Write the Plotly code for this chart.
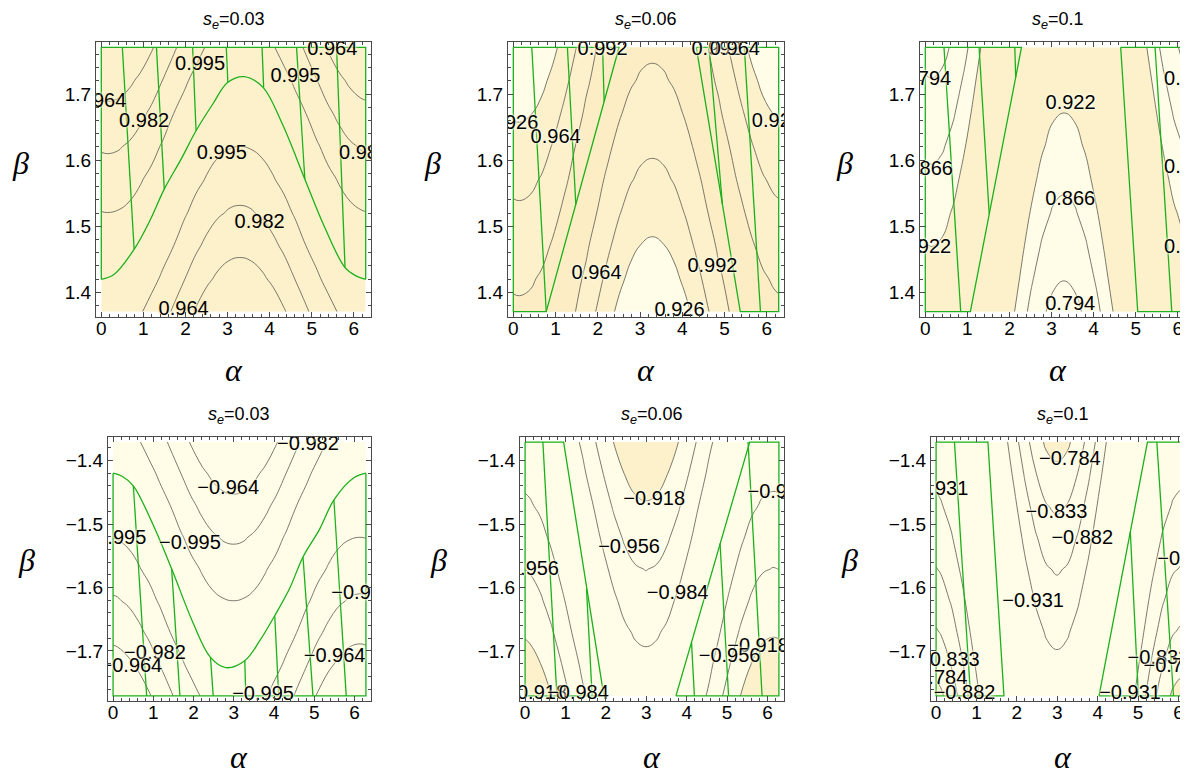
import plotly.graph_objects as go

W, H = 1188, 770

# ---------------- data ----------------
alpha_up = [0.0, 0.150, 0.412, 0.674, 0.935, 1.197, 1.459, 1.721, 1.983, 2.244, 2.506, 2.768, 3.030,
            3.292, 3.553, 3.815, 4.077, 4.339, 4.601, 4.862, 5.124, 5.386, 5.648, 5.909, 6.171, 6.283]
beta_up = [1.3708, 1.4208, 1.4708, 1.5208, 1.5708, 1.6208, 1.6708, 1.7208, 1.7708]
alpha_dn = [0.0, 0.112, 0.374, 0.635, 0.897, 1.159, 1.421, 1.683, 1.944, 2.206, 2.468, 2.730, 2.991,
            3.253, 3.515, 3.777, 4.039, 4.301, 4.562, 4.824, 5.086, 5.348, 5.609, 5.871, 6.133, 6.283]
beta_dn = [-1.7708, -1.7208, -1.6708, -1.6208, -1.5708, -1.5208, -1.4708, -1.4208, -1.3708]

# z values, one list per alpha column (bottom to top in beta)
zc_up_003 = [
    [0.9986, 1.0000, 0.9988, 0.9952, 0.9891, 0.9805, 0.9694, 0.9559, 0.9401],
    [0.9988, 1.0000, 0.9988, 0.9950, 0.9888, 0.9801, 0.9689, 0.9553, 0.9394],
    [0.9985, 1.0000, 0.9990, 0.9955, 0.9895, 0.9810, 0.9701, 0.9568, 0.9411],
    [0.9976, 0.9998, 0.9996, 0.9968, 0.9916, 0.9838, 0.9737, 0.9611, 0.9460],
    [0.9956, 0.9990, 1.0000, 0.9984, 0.9944, 0.9879, 0.9789, 0.9674, 0.9535],
    [0.9922, 0.9972, 0.9997, 0.9997, 0.9972, 0.9922, 0.9847, 0.9748, 0.9624],
    [0.9871, 0.9938, 0.9981, 0.9999, 0.9992, 0.9960, 0.9904, 0.9822, 0.9716],
    [0.9801, 0.9888, 0.9950, 0.9988, 1.0000, 0.9988, 0.9950, 0.9888, 0.9801],
    [0.9716, 0.9822, 0.9904, 0.9960, 0.9992, 0.9999, 0.9981, 0.9938, 0.9871],
    [0.9624, 0.9748, 0.9847, 0.9922, 0.9972, 0.9997, 0.9997, 0.9972, 0.9922],
    [0.9535, 0.9674, 0.9789, 0.9879, 0.9944, 0.9984, 1.0000, 0.9990, 0.9956],
    [0.9460, 0.9611, 0.9737, 0.9838, 0.9916, 0.9968, 0.9996, 0.9998, 0.9976],
    [0.9411, 0.9568, 0.9701, 0.9810, 0.9895, 0.9955, 0.9990, 1.0000, 0.9985],
    [0.9394, 0.9553, 0.9689, 0.9801, 0.9888, 0.9950, 0.9988, 1.0000, 0.9988],
    [0.9411, 0.9568, 0.9701, 0.9810, 0.9895, 0.9955, 0.9990, 1.0000, 0.9985],
    [0.9460, 0.9611, 0.9737, 0.9838, 0.9916, 0.9968, 0.9996, 0.9998, 0.9976],
    [0.9535, 0.9674, 0.9789, 0.9879, 0.9944, 0.9984, 1.0000, 0.9990, 0.9956],
    [0.9624, 0.9748, 0.9847, 0.9922, 0.9972, 0.9997, 0.9997, 0.9972, 0.9922],
    [0.9716, 0.9822, 0.9904, 0.9960, 0.9992, 0.9999, 0.9981, 0.9938, 0.9871],
    [0.9801, 0.9888, 0.9950, 0.9988, 1.0000, 0.9988, 0.9950, 0.9888, 0.9801],
    [0.9871, 0.9938, 0.9981, 0.9999, 0.9992, 0.9960, 0.9904, 0.9822, 0.9716],
    [0.9922, 0.9972, 0.9997, 0.9997, 0.9972, 0.9922, 0.9847, 0.9748, 0.9624],
    [0.9956, 0.9990, 1.0000, 0.9984, 0.9944, 0.9879, 0.9789, 0.9674, 0.9535],
    [0.9976, 0.9998, 0.9996, 0.9968, 0.9916, 0.9838, 0.9737, 0.9611, 0.9460],
    [0.9985, 1.0000, 0.9990, 0.9955, 0.9895, 0.9810, 0.9701, 0.9568, 0.9411],
    [0.9986, 1.0000, 0.9988, 0.9952, 0.9891, 0.9805, 0.9694, 0.9559, 0.9401],
]
zc_up_006 = [
    [0.9953, 0.9892, 0.9807, 0.9697, 0.9562, 0.9404, 0.9222, 0.9017, 0.8790],
    [0.9950, 0.9888, 0.9801, 0.9689, 0.9553, 0.9394, 0.9211, 0.9004, 0.8776],
    [0.9960, 0.9902, 0.9820, 0.9713, 0.9582, 0.9428, 0.9249, 0.9048, 0.8823],
    [0.9982, 0.9940, 0.9872, 0.9780, 0.9664, 0.9523, 0.9359, 0.9171, 0.8961],
    [0.9999, 0.9981, 0.9937, 0.9869, 0.9776, 0.9659, 0.9517, 0.9352, 0.9163],
    [0.9988, 1.0000, 0.9988, 0.9950, 0.9888, 0.9801, 0.9689, 0.9553, 0.9394],
    [0.9926, 0.9974, 0.9998, 0.9996, 0.9970, 0.9918, 0.9842, 0.9741, 0.9616],
    [0.9801, 0.9888, 0.9950, 0.9988, 1.0000, 0.9988, 0.9950, 0.9888, 0.9801],
    [0.9616, 0.9741, 0.9842, 0.9918, 0.9970, 0.9996, 0.9998, 0.9974, 0.9926],
    [0.9394, 0.9553, 0.9689, 0.9801, 0.9888, 0.9950, 0.9988, 1.0000, 0.9988],
    [0.9163, 0.9352, 0.9517, 0.9659, 0.9776, 0.9869, 0.9937, 0.9981, 0.9999],
    [0.8961, 0.9171, 0.9359, 0.9523, 0.9664, 0.9780, 0.9872, 0.9940, 0.9982],
    [0.8823, 0.9048, 0.9249, 0.9428, 0.9582, 0.9713, 0.9820, 0.9902, 0.9960],
    [0.8776, 0.9004, 0.9211, 0.9394, 0.9553, 0.9689, 0.9801, 0.9888, 0.9950],
    [0.8823, 0.9048, 0.9249, 0.9428, 0.9582, 0.9713, 0.9820, 0.9902, 0.9960],
    [0.8961, 0.9171, 0.9359, 0.9523, 0.9664, 0.9780, 0.9872, 0.9940, 0.9982],
    [0.9163, 0.9352, 0.9517, 0.9659, 0.9776, 0.9869, 0.9937, 0.9981, 0.9999],
    [0.9394, 0.9553, 0.9689, 0.9801, 0.9888, 0.9950, 0.9988, 1.0000, 0.9988],
    [0.9616, 0.9741, 0.9842, 0.9918, 0.9970, 0.9996, 0.9998, 0.9974, 0.9926],
    [0.9801, 0.9888, 0.9950, 0.9988, 1.0000, 0.9988, 0.9950, 0.9888, 0.9801],
    [0.9926, 0.9974, 0.9998, 0.9996, 0.9970, 0.9918, 0.9842, 0.9741, 0.9616],
    [0.9988, 1.0000, 0.9988, 0.9950, 0.9888, 0.9801, 0.9689, 0.9553, 0.9394],
    [0.9999, 0.9981, 0.9937, 0.9869, 0.9776, 0.9659, 0.9517, 0.9352, 0.9163],
    [0.9982, 0.9940, 0.9872, 0.9780, 0.9664, 0.9523, 0.9359, 0.9171, 0.8961],
    [0.9960, 0.9902, 0.9820, 0.9713, 0.9582, 0.9428, 0.9249, 0.9048, 0.8823],
    [0.9953, 0.9892, 0.9807, 0.9697, 0.9562, 0.9404, 0.9222, 0.9017, 0.8790],
]
zc_up_010 = [
    [0.9571, 0.9414, 0.9234, 0.9030, 0.8804, 0.8556, 0.8287, 0.7997, 0.7687],
    [0.9553, 0.9394, 0.9211, 0.9004, 0.8776, 0.8525, 0.8253, 0.7961, 0.7648],
    [0.9602, 0.9451, 0.9275, 0.9077, 0.8856, 0.8613, 0.8348, 0.8063, 0.7757],
    [0.9730, 0.9602, 0.9451, 0.9275, 0.9077, 0.8856, 0.8613, 0.8348, 0.8063],
    [0.9882, 0.9793, 0.9679, 0.9541, 0.9380, 0.9195, 0.8987, 0.8757, 0.8504],
    [0.9988, 0.9950, 0.9888, 0.9801, 0.9689, 0.9553, 0.9394, 0.9211, 0.9004],
    [0.9975, 0.9998, 0.9996, 0.9969, 0.9917, 0.9840, 0.9739, 0.9613, 0.9464],
    [0.9801, 0.9888, 0.9950, 0.9988, 1.0000, 0.9988, 0.9950, 0.9888, 0.9801],
    [0.9464, 0.9613, 0.9739, 0.9840, 0.9917, 0.9969, 0.9996, 0.9998, 0.9975],
    [0.9004, 0.9211, 0.9394, 0.9553, 0.9689, 0.9801, 0.9888, 0.9950, 0.9988],
    [0.8504, 0.8757, 0.8987, 0.9195, 0.9380, 0.9541, 0.9679, 0.9793, 0.9882],
    [0.8063, 0.8348, 0.8613, 0.8856, 0.9077, 0.9275, 0.9451, 0.9602, 0.9730],
    [0.7757, 0.8063, 0.8348, 0.8613, 0.8856, 0.9077, 0.9275, 0.9451, 0.9602],
    [0.7648, 0.7961, 0.8253, 0.8525, 0.8776, 0.9004, 0.9211, 0.9394, 0.9553],
    [0.7757, 0.8063, 0.8348, 0.8613, 0.8856, 0.9077, 0.9275, 0.9451, 0.9602],
    [0.8063, 0.8348, 0.8613, 0.8856, 0.9077, 0.9275, 0.9451, 0.9602, 0.9730],
    [0.8504, 0.8757, 0.8987, 0.9195, 0.9380, 0.9541, 0.9679, 0.9793, 0.9882],
    [0.9004, 0.9211, 0.9394, 0.9553, 0.9689, 0.9801, 0.9888, 0.9950, 0.9988],
    [0.9464, 0.9613, 0.9739, 0.9840, 0.9917, 0.9969, 0.9996, 0.9998, 0.9975],
    [0.9801, 0.9888, 0.9950, 0.9988, 1.0000, 0.9988, 0.9950, 0.9888, 0.9801],
    [0.9975, 0.9998, 0.9996, 0.9969, 0.9917, 0.9840, 0.9739, 0.9613, 0.9464],
    [0.9988, 0.9950, 0.9888, 0.9801, 0.9689, 0.9553, 0.9394, 0.9211, 0.9004],
    [0.9882, 0.9793, 0.9679, 0.9541, 0.9380, 0.9195, 0.8987, 0.8757, 0.8504],
    [0.9730, 0.9602, 0.9451, 0.9275, 0.9077, 0.8856, 0.8613, 0.8348, 0.8063],
    [0.9602, 0.9451, 0.9275, 0.9077, 0.8856, 0.8613, 0.8348, 0.8063, 0.7757],
    [0.9571, 0.9414, 0.9234, 0.9030, 0.8804, 0.8556, 0.8287, 0.7997, 0.7687],
]
zc_dn_003 = [
    [-0.9401, -0.9559, -0.9694, -0.9805, -0.9891, -0.9952, -0.9988, -1.0000, -0.9986],
    [-0.9411, -0.9568, -0.9701, -0.9810, -0.9895, -0.9955, -0.9990, -1.0000, -0.9985],
    [-0.9460, -0.9611, -0.9737, -0.9838, -0.9916, -0.9968, -0.9996, -0.9998, -0.9976],
    [-0.9535, -0.9674, -0.9789, -0.9879, -0.9944, -0.9984, -1.0000, -0.9990, -0.9956],
    [-0.9624, -0.9748, -0.9847, -0.9922, -0.9972, -0.9997, -0.9997, -0.9972, -0.9922],
    [-0.9716, -0.9822, -0.9904, -0.9960, -0.9992, -0.9999, -0.9981, -0.9938, -0.9871],
    [-0.9801, -0.9888, -0.9950, -0.9988, -1.0000, -0.9988, -0.9950, -0.9888, -0.9801],
    [-0.9871, -0.9938, -0.9981, -0.9999, -0.9992, -0.9960, -0.9904, -0.9822, -0.9716],
    [-0.9922, -0.9972, -0.9997, -0.9997, -0.9972, -0.9922, -0.9847, -0.9748, -0.9624],
    [-0.9956, -0.9990, -1.0000, -0.9984, -0.9944, -0.9879, -0.9789, -0.9674, -0.9535],
    [-0.9976, -0.9998, -0.9996, -0.9968, -0.9916, -0.9838, -0.9737, -0.9611, -0.9460],
    [-0.9985, -1.0000, -0.9990, -0.9955, -0.9895, -0.9810, -0.9701, -0.9568, -0.9411],
    [-0.9988, -1.0000, -0.9988, -0.9950, -0.9888, -0.9801, -0.9689, -0.9553, -0.9394],
    [-0.9985, -1.0000, -0.9990, -0.9955, -0.9895, -0.9810, -0.9701, -0.9568, -0.9411],
    [-0.9976, -0.9998, -0.9996, -0.9968, -0.9916, -0.9838, -0.9737, -0.9611, -0.9460],
    [-0.9956, -0.9990, -1.0000, -0.9984, -0.9944, -0.9879, -0.9789, -0.9674, -0.9535],
    [-0.9922, -0.9972, -0.9997, -0.9997, -0.9972, -0.9922, -0.9847, -0.9748, -0.9624],
    [-0.9871, -0.9938, -0.9981, -0.9999, -0.9992, -0.9960, -0.9904, -0.9822, -0.9716],
    [-0.9801, -0.9888, -0.9950, -0.9988, -1.0000, -0.9988, -0.9950, -0.9888, -0.9801],
    [-0.9716, -0.9822, -0.9904, -0.9960, -0.9992, -0.9999, -0.9981, -0.9938, -0.9871],
    [-0.9624, -0.9748, -0.9847, -0.9922, -0.9972, -0.9997, -0.9997, -0.9972, -0.9922],
    [-0.9535, -0.9674, -0.9789, -0.9879, -0.9944, -0.9984, -1.0000, -0.9990, -0.9956],
    [-0.9460, -0.9611, -0.9737, -0.9838, -0.9916, -0.9968, -0.9996, -0.9998, -0.9976],
    [-0.9411, -0.9568, -0.9701, -0.9810, -0.9895, -0.9955, -0.9990, -1.0000, -0.9985],
    [-0.9394, -0.9553, -0.9689, -0.9801, -0.9888, -0.9950, -0.9988, -1.0000, -0.9988],
    [-0.9401, -0.9559, -0.9694, -0.9805, -0.9891, -0.9952, -0.9988, -1.0000, -0.9986],
]
zc_dn_006 = [
    [-0.8790, -0.9017, -0.9222, -0.9404, -0.9562, -0.9697, -0.9807, -0.9892, -0.9953],
    [-0.8823, -0.9048, -0.9249, -0.9428, -0.9582, -0.9713, -0.9820, -0.9902, -0.9960],
    [-0.8961, -0.9171, -0.9359, -0.9523, -0.9664, -0.9780, -0.9872, -0.9940, -0.9982],
    [-0.9163, -0.9352, -0.9517, -0.9659, -0.9776, -0.9869, -0.9937, -0.9981, -0.9999],
    [-0.9394, -0.9553, -0.9689, -0.9801, -0.9888, -0.9950, -0.9988, -1.0000, -0.9988],
    [-0.9616, -0.9741, -0.9842, -0.9918, -0.9970, -0.9996, -0.9998, -0.9974, -0.9926],
    [-0.9801, -0.9888, -0.9950, -0.9988, -1.0000, -0.9988, -0.9950, -0.9888, -0.9801],
    [-0.9926, -0.9974, -0.9998, -0.9996, -0.9970, -0.9918, -0.9842, -0.9741, -0.9616],
    [-0.9988, -1.0000, -0.9988, -0.9950, -0.9888, -0.9801, -0.9689, -0.9553, -0.9394],
    [-0.9999, -0.9981, -0.9937, -0.9869, -0.9776, -0.9659, -0.9517, -0.9352, -0.9163],
    [-0.9982, -0.9940, -0.9872, -0.9780, -0.9664, -0.9523, -0.9359, -0.9171, -0.8961],
    [-0.9960, -0.9902, -0.9820, -0.9713, -0.9582, -0.9428, -0.9249, -0.9048, -0.8823],
    [-0.9950, -0.9888, -0.9801, -0.9689, -0.9553, -0.9394, -0.9211, -0.9004, -0.8776],
    [-0.9960, -0.9902, -0.9820, -0.9713, -0.9582, -0.9428, -0.9249, -0.9048, -0.8823],
    [-0.9982, -0.9940, -0.9872, -0.9780, -0.9664, -0.9523, -0.9359, -0.9171, -0.8961],
    [-0.9999, -0.9981, -0.9937, -0.9869, -0.9776, -0.9659, -0.9517, -0.9352, -0.9163],
    [-0.9988, -1.0000, -0.9988, -0.9950, -0.9888, -0.9801, -0.9689, -0.9553, -0.9394],
    [-0.9926, -0.9974, -0.9998, -0.9996, -0.9970, -0.9918, -0.9842, -0.9741, -0.9616],
    [-0.9801, -0.9888, -0.9950, -0.9988, -1.0000, -0.9988, -0.9950, -0.9888, -0.9801],
    [-0.9616, -0.9741, -0.9842, -0.9918, -0.9970, -0.9996, -0.9998, -0.9974, -0.9926],
    [-0.9394, -0.9553, -0.9689, -0.9801, -0.9888, -0.9950, -0.9988, -1.0000, -0.9988],
    [-0.9163, -0.9352, -0.9517, -0.9659, -0.9776, -0.9869, -0.9937, -0.9981, -0.9999],
    [-0.8961, -0.9171, -0.9359, -0.9523, -0.9664, -0.9780, -0.9872, -0.9940, -0.9982],
    [-0.8823, -0.9048, -0.9249, -0.9428, -0.9582, -0.9713, -0.9820, -0.9902, -0.9960],
    [-0.8776, -0.9004, -0.9211, -0.9394, -0.9553, -0.9689, -0.9801, -0.9888, -0.9950],
    [-0.8790, -0.9017, -0.9222, -0.9404, -0.9562, -0.9697, -0.9807, -0.9892, -0.9953],
]
zc_dn_010 = [
    [-0.7687, -0.7997, -0.8287, -0.8556, -0.8804, -0.9030, -0.9234, -0.9414, -0.9571],
    [-0.7757, -0.8063, -0.8348, -0.8613, -0.8856, -0.9077, -0.9275, -0.9451, -0.9602],
    [-0.8063, -0.8348, -0.8613, -0.8856, -0.9077, -0.9275, -0.9451, -0.9602, -0.9730],
    [-0.8504, -0.8757, -0.8987, -0.9195, -0.9380, -0.9541, -0.9679, -0.9793, -0.9882],
    [-0.9004, -0.9211, -0.9394, -0.9553, -0.9689, -0.9801, -0.9888, -0.9950, -0.9988],
    [-0.9464, -0.9613, -0.9739, -0.9840, -0.9917, -0.9969, -0.9996, -0.9998, -0.9975],
    [-0.9801, -0.9888, -0.9950, -0.9988, -1.0000, -0.9988, -0.9950, -0.9888, -0.9801],
    [-0.9975, -0.9998, -0.9996, -0.9969, -0.9917, -0.9840, -0.9739, -0.9613, -0.9464],
    [-0.9988, -0.9950, -0.9888, -0.9801, -0.9689, -0.9553, -0.9394, -0.9211, -0.9004],
    [-0.9882, -0.9793, -0.9679, -0.9541, -0.9380, -0.9195, -0.8987, -0.8757, -0.8504],
    [-0.9730, -0.9602, -0.9451, -0.9275, -0.9077, -0.8856, -0.8613, -0.8348, -0.8063],
    [-0.9602, -0.9451, -0.9275, -0.9077, -0.8856, -0.8613, -0.8348, -0.8063, -0.7757],
    [-0.9553, -0.9394, -0.9211, -0.9004, -0.8776, -0.8525, -0.8253, -0.7961, -0.7648],
    [-0.9602, -0.9451, -0.9275, -0.9077, -0.8856, -0.8613, -0.8348, -0.8063, -0.7757],
    [-0.9730, -0.9602, -0.9451, -0.9275, -0.9077, -0.8856, -0.8613, -0.8348, -0.8063],
    [-0.9882, -0.9793, -0.9679, -0.9541, -0.9380, -0.9195, -0.8987, -0.8757, -0.8504],
    [-0.9988, -0.9950, -0.9888, -0.9801, -0.9689, -0.9553, -0.9394, -0.9211, -0.9004],
    [-0.9975, -0.9998, -0.9996, -0.9969, -0.9917, -0.9840, -0.9739, -0.9613, -0.9464],
    [-0.9801, -0.9888, -0.9950, -0.9988, -1.0000, -0.9988, -0.9950, -0.9888, -0.9801],
    [-0.9464, -0.9613, -0.9739, -0.9840, -0.9917, -0.9969, -0.9996, -0.9998, -0.9975],
    [-0.9004, -0.9211, -0.9394, -0.9553, -0.9689, -0.9801, -0.9888, -0.9950, -0.9988],
    [-0.8504, -0.8757, -0.8987, -0.9195, -0.9380, -0.9541, -0.9679, -0.9793, -0.9882],
    [-0.8063, -0.8348, -0.8613, -0.8856, -0.9077, -0.9275, -0.9451, -0.9602, -0.9730],
    [-0.7757, -0.8063, -0.8348, -0.8613, -0.8856, -0.9077, -0.9275, -0.9451, -0.9602],
    [-0.7648, -0.7961, -0.8253, -0.8525, -0.8776, -0.9004, -0.9211, -0.9394, -0.9553],
    [-0.7687, -0.7997, -0.8287, -0.8556, -0.8804, -0.9030, -0.9234, -0.9414, -0.9571],
]

titles = ["0.03", "0.06", "0.1", "0.03", "0.06", "0.1"]

levels_up_003 = [0.964, 0.982, 0.995]
levels_up_006 = [0.926, 0.964, 0.992]
levels_up_010 = [0.794, 0.866, 0.922]
levels_dn_003 = [-0.995, -0.982, -0.964]
levels_dn_006 = [-0.984, -0.956, -0.918]
levels_dn_010 = [-0.931, -0.882, -0.833, -0.784]

# shading thresholds (z above the value drawn darker)
shade_up_003 = []
shade_up_006 = [0.926, 0.992]
shade_up_010 = [0.922]
shade_dn_003 = []
shade_dn_006 = [-0.918]
shade_dn_010 = [-0.784]

# contour label positions
lab_up_003_a = [2.347, 5.489, 4.614, 0.0, 1.018, 2.864, 3.763, 6.245, 1.957]
lab_up_003_b = [1.7445, 1.7668, 1.7264, 1.6875, 1.6572, 1.6092, 1.5056, 1.6092, 1.3728]
lab_up_003_t = ["0.995", "0.964", "0.995", "0.964", "0.982", "0.995", "0.982", "0.982", "0.964"]
lab_up_006_a = [2.114, 4.809, 5.246, 0.0, 1.002, 6.24, 1.971, 4.714, 3.935]
lab_up_006_b = [1.7668, 1.7668, 1.7668, 1.6546, 1.6329, 1.6582, 1.4274, 1.4385, 1.3718]
lab_up_006_t = ["0.992", "0.992", "0.964", "0.926", "0.964", "0.926", "0.964", "0.992", "0.926"]
lab_up_010_a = [0.02, 6.27, 3.452, 0.063, 6.27, 3.444, 0.02, 6.27, 3.444]
lab_up_010_b = [1.7213, 1.7213, 1.6849, 1.5854, 1.5875, 1.5395, 1.4668, 1.4668, 1.3804]
lab_up_010_t = ["0.794", "0.794", "0.922", "0.866", "0.866", "0.866", "0.922", "0.922", "0.794"]
lab_dn_003_a = [4.843, 2.860, 0.058, 1.909, 6.19, 1.041, 0.455, 5.504, 3.727]
lab_dn_003_b = [-1.3746, -1.445, -1.5228, -1.5307, -1.61, -1.7053, -1.7249, -1.7090, -1.7688]
lab_dn_003_t = ["−0.982", "−0.964", "−0.995", "−0.995", "−0.982", "−0.982", "−0.964", "−0.964", "−0.995"]
lab_dn_006_a = [3.195, 6.27, 2.573, 0.075, 3.776, 5.768, 5.062, 0.274, 1.31]
lab_dn_006_b = [-1.4621, -1.4515, -1.5376, -1.5729, -1.6099, -1.6943, -1.7091, -1.7682, -1.7682]
lab_dn_006_t = ["−0.918", "−0.984", "−0.956", "−0.956", "−0.984", "−0.918", "−0.956", "−0.918", "−0.984"]
lab_dn_010_a = [3.311, 0.033, 2.980, 3.618, 6.24, 2.401, 0.315, 0.008, 0.704, 5.505, 5.90, 4.801]
lab_dn_010_b = [-1.3988, -1.4463, -1.4832, -1.5228, -1.5571, -1.6230, -1.7154, -1.7444, -1.7682, -1.7128, -1.7259, -1.7682]
lab_dn_010_t = ["−0.784", "−0.931", "−0.833", "−0.882", "−0.882", "−0.931", "−0.833", "−0.784", "−0.882", "−0.833", "−0.784", "−0.931"]

# green region boundaries (straight pieces)
grn_up_003_a = [0, 0, 6.283, 6.283, None, 0.50, 0.78, None, 1.31, 1.496, None, 2.17, 2.251, None,
                2.97, 3.007, None, 3.82, 3.858, None, 4.64, 4.837, None, 5.59, 5.792]
grn_up_003_b = [1.4198, 1.7708, 1.7708, 1.4198, None, 1.7708, 1.4652, None, 1.7708, 1.5562, None, 1.7708, 1.6445, None,
                1.7708, 1.7178, None, 1.7708, 1.7102, None, 1.7708, 1.5713, None, 1.7708, 1.4375]
grn_up_006_a = [0, 0, 0.779, 2.504, 0, None, 0.437, 0.779, None, 1.280, 1.480, None, 2.114, 2.150, None,
                4.332, 6.283, 6.283, 5.374, 4.332, None, 4.634, 4.950, None, 5.469, 5.851]
grn_up_006_b = [1.7708, 1.3708, 1.3708, 1.7708, 1.7708, None, 1.7708, 1.3708, None, 1.7708, 1.5334, None, 1.7708, 1.6885, None,
                1.7708, 1.7708, 1.3708, 1.3708, 1.7708, None, 1.7708, 1.5334, None, 1.7708, 1.3708]
grn_up_010_a = [0, 0, 1.071, 2.286, 0, None, 0.444, 0.841, None, 1.278, 1.519, None, 2.127, 2.148, None,
                4.643, 6.283, 6.283, 5.048, 4.643, None, 5.460, 5.857]
grn_up_010_b = [1.7708, 1.3708, 1.3708, 1.7708, 1.7708, None, 1.7708, 1.3708, None, 1.7708, 1.5183, None, 1.7708, 1.7253, None,
                1.7708, 1.7708, 1.3708, 1.3708, 1.7708, None, 1.7708, 1.3708]
grn_dn_003_a = [0, 0, 6.283, 6.283, None, 0.504, 0.835, None, 1.455, 1.661, None, 2.421, 2.488, None, 3.273, 3.298, None,
                4.017, 4.116, None, 4.719, 4.967, None, 5.488, 5.793]
grn_dn_003_b = [-1.4198, -1.7708, -1.7708, -1.4198, None, -1.4397, -1.7708, None, -1.5704, -1.7708, None, -1.7101, -1.7708, None,
                -1.7153, -1.7708, None, -1.6444, -1.7708, None, -1.5519, -1.7708, None, -1.4619, -1.7708]
grn_dn_006_a = [0, 0, 1.950, 0.954, 0, None, 0.440, 0.788, None, 1.52, 1.660, None,
                3.734, 6.283, 6.283, 5.560, 3.734, None, 5.519, 5.867, None, 4.826, 5.037, None, 4.12, 4.191]
grn_dn_006_b = [-1.3708, -1.7708, -1.7708, -1.3708, -1.3708, None, -1.3708, -1.7708, None, -1.6019, -1.7708, None,
                -1.7708, -1.7708, -1.3708, -1.3708, -1.7708, None, -1.3708, -1.7708, None, -1.5307, -1.7708, None, -1.6864, -1.7708]
grn_dn_010_a = [0, 0, 1.680, 1.283, 0, None, 0.455, 0.853, None,
                4.033, 6.283, 6.283, 5.232, 4.033, None, 5.464, 5.877, None, 4.808, 5.008]
grn_dn_010_b = [-1.3708, -1.7708, -1.7708, -1.3708, -1.3708, None, -1.3708, -1.7708, None,
                -1.7708, -1.7708, -1.3708, -1.3708, -1.7708, None, -1.3708, -1.7708, None, -1.5122, -1.7708]

# green curved boundaries
crv_up_003_a = [0, 0.30, 0.78, 1.15, 1.496, 1.90, 2.251, 2.65, 3.007, 3.40, 3.842, 4.30, 4.837, 5.30, 5.792, 6.05, 6.283]
crv_up_003_b = [1.4198, 1.427, 1.4652, 1.508, 1.5562, 1.602, 1.6445, 1.685, 1.7178, 1.7264, 1.7102, 1.655, 1.5713, 1.4996, 1.4375, 1.425, 1.4198]
crv_dn_003_a = [0, 0.233, 0.504, 0.983, 1.455, 1.983, 2.421, 2.80, 3.273, 3.633, 4.017, 4.383, 4.719, 5.133, 5.488, 5.983, 6.283]
crv_dn_003_b = [-1.4198, -1.425, -1.4397, -1.4996, -1.5704, -1.655, -1.7101, -1.7262, -1.7153, -1.685, -1.6444, -1.602, -1.5519, -1.508, -1.4619, -1.427, -1.4198]

# ---------------- styling ----------------
CREAM = "#FFFDE7"
BEIGE = "#FDF1CB"
BEIGE2 = "#FCEDC5"
LINEC = "rgba(90,90,80,0.8)"
GREEN = "#1CB01C"
FRAME = "#4a4a4a"
FONT = "Liberation Sans"


def rows(cols):
    return [list(r) for r in zip(*cols)]


panels = [
    dict(x=alpha_up, y=beta_up, z=rows(zc_up_003), lev=levels_up_003, shade=shade_up_003, base=BEIGE,
         la=lab_up_003_a, lb=lab_up_003_b, lt=lab_up_003_t, ga=grn_up_003_a, gb=grn_up_003_b,
         ca=crv_up_003_a, cb=crv_up_003_b, box=(88, 34, 363, 309), yr=[1.3628, 1.7788], y0=1.4),
    dict(x=alpha_up, y=beta_up, z=rows(zc_up_006), lev=levels_up_006, shade=shade_up_006, base=CREAM,
         la=lab_up_006_a, lb=lab_up_006_b, lt=lab_up_006_t, ga=grn_up_006_a, gb=grn_up_006_b,
         ca=None, cb=None, box=(500, 34, 776, 309), yr=[1.3628, 1.7788], y0=1.4),
    dict(x=alpha_up, y=beta_up, z=rows(zc_up_010), lev=levels_up_010, shade=shade_up_010, base=CREAM,
         la=lab_up_010_a, lb=lab_up_010_b, lt=lab_up_010_t, ga=grn_up_010_a, gb=grn_up_010_b,
         ca=None, cb=None, box=(912, 34, 1187, 309), yr=[1.3628, 1.7788], y0=1.4),
    dict(x=alpha_dn, y=beta_dn, z=rows(zc_dn_003), lev=levels_dn_003, shade=shade_dn_003, base=CREAM,
         la=lab_dn_003_a, lb=lab_dn_003_b, lt=lab_dn_003_t, ga=grn_dn_003_a, gb=grn_dn_003_b,
         ca=crv_dn_003_a, cb=crv_dn_003_b, box=(100, 429, 363, 693), yr=[-1.7788, -1.3628], y0=-1.4),
    dict(x=alpha_dn, y=beta_dn, z=rows(zc_dn_006), lev=levels_dn_006, shade=shade_dn_006, base=CREAM,
         la=lab_dn_006_a, lb=lab_dn_006_b, lt=lab_dn_006_t, ga=grn_dn_006_a, gb=grn_dn_006_b,
         ca=None, cb=None, box=(512, 429, 776, 693), yr=[-1.7788, -1.3628], y0=-1.4),
    dict(x=alpha_dn, y=beta_dn, z=rows(zc_dn_010), lev=levels_dn_010, shade=shade_dn_010, base=CREAM,
         la=lab_dn_010_a, lb=lab_dn_010_b, lt=lab_dn_010_t, ga=grn_dn_010_a, gb=grn_dn_010_b,
         ca=None, cb=None, box=(923, 429, 1187, 693), yr=[-1.7788, -1.3628], y0=-1.4),
]

fig = go.Figure()
layout = dict(width=W, height=H, margin=dict(l=0, r=0, t=0, b=0), paper_bgcolor="white",
              plot_bgcolor="white", showlegend=False)
annotations = []

for i, p in enumerate(panels):
    n = "" if i == 0 else str(i + 1)
    xa, ya = "x" + n, "y" + n
    common = dict(x=p["x"], y=p["y"], z=p["z"], xaxis=xa, yaxis=ya, showscale=False, hoverinfo="skip")
    # base shading over the whole data region
    fig.add_trace(go.Contour(**common, contours=dict(type="constraint", operation="<", value=-10),
                             fillcolor=p["base"], line=dict(width=0, smoothing=1.3)))
    for k, thr in enumerate(p["shade"]):
        col = BEIGE if k == 0 else BEIGE2
        fig.add_trace(go.Contour(**common, contours=dict(type="constraint", operation="<", value=thr),
                                 fillcolor=col, line=dict(width=0, smoothing=1.3)))
    # contour lines
    for lv in p["lev"]:
        fig.add_trace(go.Contour(**common, autocontour=False,
                                 contours=dict(coloring="none", start=lv, end=lv + 1e-5, size=1, showlabels=False),
                                 line=dict(color=LINEC, width=1, smoothing=1.3)))
    # green region outlines
    fig.add_trace(go.Scatter(x=p["ga"], y=p["gb"], xaxis=xa, yaxis=ya, mode="lines",
                             line=dict(color=GREEN, width=1.3), hoverinfo="skip", cliponaxis=True))
    if p["ca"] is not None:
        fig.add_trace(go.Scatter(x=p["ca"], y=p["cb"], xaxis=xa, yaxis=ya, mode="lines",
                                 line=dict(color=GREEN, width=1.3, shape="spline", smoothing=1.0),
                                 hoverinfo="skip", cliponaxis=True))
    # contour labels (soft halo hides the line under the text, as in the original)
    halo = p["base"]
    fig.add_trace(go.Scatter(x=p["la"], y=p["lb"], text=p["lt"], xaxis=xa, yaxis=ya, mode="text",
                             textposition="middle center", cliponaxis=True,
                             textfont=dict(family=FONT, size=20, color="black",
                                           shadow=f"0 0 2px {halo}, 0 0 3px {halo}, 0 0 4px {halo}"),
                             hoverinfo="skip"))

    x0, y0p, x1, y1p = p["box"]
    ax_common = dict(showline=True, linecolor=FRAME, linewidth=1, mirror="allticks", ticks="inside",
                     tickcolor=FRAME, tickwidth=1, ticklen=5, showgrid=False, zeroline=False,
                     tickfont=dict(family=FONT, size=19, color="black"))
    layout["xaxis" + n] = dict(**ax_common, domain=[x0 / W, x1 / W], anchor=ya, range=[-0.126, 6.409],
                               tickmode="linear", tick0=0, dtick=1, ticklabelstandoff=-6,
                               minor=dict(ticks="inside", ticklen=3, dtick=0.2, tick0=0, tickcolor=FRAME,
                                          showgrid=False))
    layout["yaxis" + n] = dict(**ax_common, domain=[1 - y1p / H, 1 - y0p / H], anchor=xa, range=p["yr"],
                               tickmode="linear", tick0=p["y0"], dtick=0.1, tickformat=".1f",
                               ticklabelstandoff=0,
                               minor=dict(ticks="inside", ticklen=3, dtick=0.02, tick0=p["y0"],
                                          tickcolor=FRAME, showgrid=False))
    cx = (x0 + x1) / 2
    ty = 12 if i < 3 else 407
    annotations.append(dict(x=cx / W, y=1 - ty / H, xref="paper", yref="paper", showarrow=False,
                            text="<i>s</i><sub><i>e</i></sub>=" + titles[i],
                            font=dict(family=FONT, size=18, color="black"),
                            xanchor="center", yanchor="middle"))
    ay = 362 if i < 3 else 749
    annotations.append(dict(x=cx / W, y=1 - ay / H, xref="paper", yref="paper", showarrow=False,
                            text="<i>α</i>", font=dict(family="Liberation Serif", size=32, color="black"),
                            xanchor="center", yanchor="middle"))
    bx = x0 - (76 if i < 3 else 82)
    by = 155 if i < 3 else 552
    annotations.append(dict(x=bx / W, y=1 - by / H, xref="paper", yref="paper", showarrow=False,
                            text="<i>β</i>", font=dict(family="Liberation Serif", size=32, color="black"),
                            xanchor="center", yanchor="middle"))

layout["annotations"] = annotations
fig.update_layout(**layout)
fig.write_html("out.html")
